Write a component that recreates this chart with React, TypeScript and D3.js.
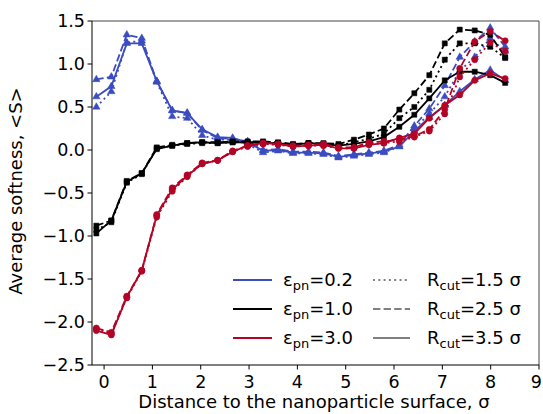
import React from "react";
import * as d3 from "d3";

const xs = [-0.16, 0.15, 0.47, 0.78, 1.09, 1.41, 1.72, 2.03, 2.35, 2.66, 2.97, 3.29, 3.6, 3.91, 4.23, 4.54, 4.85, 5.17, 5.48, 5.79, 6.11, 6.42, 6.73, 7.05, 7.36, 7.67, 7.99, 8.3];

const blue15 = [0.50, 0.68, 1.25, 1.27, 0.79, 0.39, 0.37, 0.17, 0.12, 0.12, 0.07, -0.03, -0.01, -0.04, -0.04, -0.05, -0.09, -0.07, -0.05, -0.03, 0.04, 0.25, 0.42, 0.62, 0.92, 1.08, 1.30, 1.15];
const blue25 = [0.82, 0.85, 1.34, 1.30, 0.80, 0.46, 0.43, 0.23, 0.14, 0.13, 0.10, 0.00, 0.01, -0.02, -0.02, -0.03, -0.07, -0.05, -0.03, -0.01, 0.06, 0.28, 0.48, 0.75, 1.08, 1.26, 1.42, 1.20];
const blue35 = [0.62, 0.74, 1.24, 1.24, 0.80, 0.46, 0.43, 0.24, 0.15, 0.14, 0.09, -0.01, 0.00, -0.03, -0.03, -0.04, -0.08, -0.06, -0.04, -0.02, 0.04, 0.22, 0.38, 0.52, 0.68, 0.82, 0.93, 0.81];

const black15 = [-0.93, -0.84, -0.38, -0.28, 0.02, 0.05, 0.07, 0.08, 0.08, 0.09, 0.09, 0.09, 0.08, 0.06, 0.08, 0.07, 0.05, 0.09, 0.13, 0.19, 0.37, 0.50, 0.70, 1.05, 1.24, 1.24, 1.20, 1.07];
const black25 = [-0.88, -0.82, -0.36, -0.27, 0.03, 0.06, 0.08, 0.09, 0.09, 0.10, 0.10, 0.10, 0.09, 0.07, 0.08, 0.08, 0.07, 0.12, 0.18, 0.25, 0.47, 0.66, 0.87, 1.24, 1.40, 1.39, 1.34, 1.08];
const black35 = [-0.97, -0.82, -0.37, -0.27, 0.01, 0.05, 0.08, 0.09, 0.08, 0.09, 0.09, 0.08, 0.08, 0.06, 0.08, 0.07, 0.05, 0.07, 0.10, 0.15, 0.27, 0.41, 0.60, 0.81, 0.91, 0.91, 0.87, 0.78];

const red15 = [-2.08, -2.14, -1.72, -1.41, -0.78, -0.48, -0.31, -0.16, -0.12, -0.02, 0.04, 0.07, 0.06, 0.04, 0.05, 0.05, 0.02, 0.02, 0.07, 0.08, 0.10, 0.15, 0.22, 0.42, 0.85, 1.05, 1.25, 1.15];
const red25 = [-2.07, -2.12, -1.70, -1.40, -0.75, -0.44, -0.29, -0.15, -0.12, -0.01, 0.05, 0.08, 0.07, 0.05, 0.06, 0.07, 0.03, 0.03, 0.09, 0.10, 0.12, 0.16, 0.24, 0.47, 0.95, 1.26, 1.38, 1.27];
const red35 = [-2.10, -2.15, -1.71, -1.40, -0.76, -0.46, -0.30, -0.16, -0.12, -0.02, 0.05, 0.08, 0.07, 0.04, 0.05, 0.06, 0.02, 0.02, 0.06, 0.08, 0.14, 0.19, 0.37, 0.52, 0.64, 0.81, 0.89, 0.83];

const xTicks = [0, 1, 2, 3, 4, 5, 6, 7, 8, 9];
const yTicks = [1.5, 1.0, 0.5, 0.0, -0.5, -1.0, -1.5, -2.0, -2.5];

const epsLabels = ["0.2", "1.0", "3.0"];
const rcutLabels = ["1.5", "2.5", "3.5"];

const BLUE = "#3b4cc0";
const RED = "#b40426";
const BLACK = "#000000";
const colors = [BLUE, BLACK, RED];
const markers = ["triangle", "square", "circle"];
const dashes = ["2,3.3", "7.4,3.2", null];

const groups = [
  [blue15, blue25, blue35],
  [black15, black25, black35],
  [red15, red25, red35],
];

const FONT = "DejaVu Sans, sans-serif";

export default function App() {
  const W = 543, H = 414;
  const left = 92, right = 539, top = 21, bottom = 365;
  const x = d3.scaleLinear().domain([-0.25, 9]).range([left, right]);
  const y = d3.scaleLinear().domain([-2.5, 1.5]).range([bottom, top]);
  const line = d3.line<number>().x((_, i) => x(xs[i])).y((d) => y(d));

  const sym = (m: string) => {
    if (m === "triangle") return d3.symbol().type(d3.symbolTriangle).size(24)();
    if (m === "square") return d3.symbol().type(d3.symbolSquare).size(26)();
    return d3.symbol().type(d3.symbolCircle).size(30)();
  };

  const fs = 17.5;
  const lfs = 18;
  const legRows = [280, 309, 338];

  return (
    <svg width={W} height={H} style={{ position: "absolute", left: 0, top: 0 }} fontFamily={FONT}>
      <rect x={0} y={0} width={W} height={H} fill="#fff" />
      {groups.map((g, gi) =>
        g.map((s, si) => (
          <g key={`${gi}-${si}`}>
            <path d={line(s) || ""} fill="none" stroke={colors[gi]} strokeWidth={1.8}
              strokeDasharray={dashes[si] || undefined} />
            {s.map((v, i) => (
              <path key={i} d={sym(markers[gi]) || ""} transform={`translate(${x(xs[i])},${y(v)})`}
                fill={colors[gi]} stroke={colors[gi]} strokeWidth={0.5} />
            ))}
          </g>
        ))
      )}
      <line x1={left} x2={right} y1={top} y2={top} stroke="#444" strokeWidth={1} />
      <line x1={right} x2={right} y1={top} y2={bottom} stroke="#444" strokeWidth={1} />
      <line x1={left} x2={left} y1={top} y2={bottom} stroke="#000" strokeWidth={1} />
      <line x1={left} x2={right} y1={bottom} y2={bottom} stroke="#000" strokeWidth={1} />
      {xTicks.map((t) => {
        const px = x(t);
        const edge = px + 6 > W;
        return (
          <g key={t}>
            <line x1={px} x2={px} y1={bottom} y2={bottom + 4.5} stroke="#000" />
            <text x={edge ? W - 1 : px} y={bottom + 23} textAnchor={edge ? "end" : "middle"} fontSize={fs}>{t}</text>
          </g>
        );
      })}
      {yTicks.map((t) => (
        <g key={t}>
          <line x1={left - 4.5} x2={left} y1={y(t)} y2={y(t)} stroke="#000" />
          <text x={left - 7} y={y(t) + 6} textAnchor="end" fontSize={fs}>
            {(t < 0 ? "\u2212" : "") + Math.abs(t).toFixed(1)}
          </text>
        </g>
      ))}
      <text x={314} y={408} textAnchor="middle" fontSize={lfs}>
        Distance to the nanoparticle surface, σ
      </text>
      <text transform={`translate(22,${(top + bottom) / 2 - 2}) rotate(-90)`} textAnchor="middle" fontSize={lfs}>
        Average softness, &lt;S&gt;
      </text>
      {epsLabels.map((e, i) => (
        <g key={e}>
          <line x1={233} x2={272} y1={legRows[i]} y2={legRows[i]} stroke={colors[i]} strokeWidth={1.8} />
          <text x={283} y={legRows[i] + 6} fontSize={lfs}>
            ε<tspan fontSize={13} dy={4}>pn</tspan><tspan dy={-4}>={e}</tspan>
          </text>
        </g>
      ))}
      {rcutLabels.map((r, i) => (
        <g key={r}>
          <line x1={373} x2={410} y1={legRows[i]} y2={legRows[i]} stroke="#808080" strokeWidth={1.8}
            strokeDasharray={dashes[i] || undefined} />
          <text x={427} y={legRows[i] + 6} fontSize={lfs}>
            R<tspan fontSize={13} dy={4}>cut</tspan><tspan dy={-4}>={r} σ</tspan>
          </text>
        </g>
      ))}
    </svg>
  );
}
